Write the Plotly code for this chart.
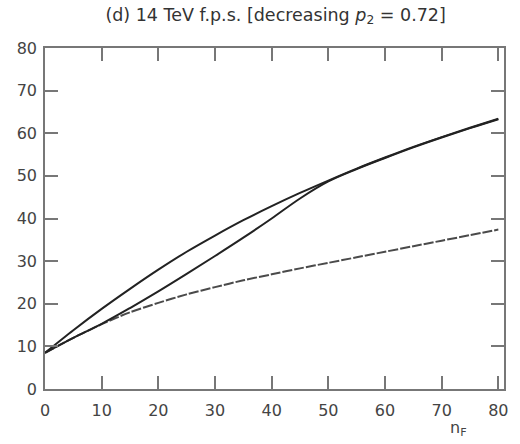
import plotly.graph_objects as go

n_f = [0, 5, 10, 15, 20, 25, 30, 35, 40, 45, 50, 55, 60, 65, 70, 75, 80]
upper = [8.5, 13.8, 18.8, 23.5, 28.0, 32.2, 36.0, 39.6, 42.9, 46.0, 48.9, 51.7, 54.3, 56.8, 59.1, 61.3, 63.4]
middle = [8.5, 12.0, 15.3, 19.0, 22.9, 27.0, 31.2, 35.5, 40.0, 44.7, 48.7, 51.6, 54.2, 56.7, 59.0, 61.2, 63.3]
lower = [8.5, 12.0, 15.2, 18.0, 20.2, 22.2, 23.9, 25.5, 26.9, 28.3, 29.6, 30.9, 32.2, 33.5, 34.8, 36.1, 37.4]

x_ticks = [0, 10, 20, 30, 40, 50, 60, 70, 80]
y_ticks = [0, 10, 20, 30, 40, 50, 60, 70, 80]

title_text = "(d) 14 TeV f.p.s. [decreasing <i>p</i><sub>2</sub> = 0.72]"
x_label = "n<sub>F</sub>"

fig = go.Figure()
fig.add_trace(go.Scatter(x=n_f, y=lower, mode="lines", line=dict(color="#4a4a4a", width=2, dash="10px,2px", shape="spline", smoothing=0.8)))
fig.add_trace(go.Scatter(x=n_f, y=middle, mode="lines", line=dict(color="#222222", width=2, shape="spline", smoothing=1.0)))
fig.add_trace(go.Scatter(x=n_f, y=upper, mode="lines", line=dict(color="#222222", width=2, shape="spline", smoothing=0.8)))

axis_common = dict(
    showgrid=False, zeroline=False, showline=True, linecolor="#777777", linewidth=1.5,
    mirror="ticks", ticks="inside", ticklen=13, tickwidth=1.5, tickcolor="#777777",
    tickfont=dict(family="DejaVu Sans", size=16, color="#444444"),
)

fig.update_layout(
    width=520, height=444,
    margin=dict(l=45, r=14, t=48, b=55),
    paper_bgcolor="white", plot_bgcolor="white",
    showlegend=False,
    title=dict(text=title_text, x=0.53, xanchor="center", y=0.967, yanchor="middle",
               font=dict(family="DejaVu Sans", size=17.5, color="#333333")),
    xaxis=dict(range=[0, 81], tickvals=x_ticks, ticklabelstandoff=6, **axis_common),
    yaxis=dict(range=[0, 80], tickvals=y_ticks, ticklabelstandoff=3, **axis_common),
)
fig.add_annotation(text=x_label, xref="x", yref="paper", x=73, y=-0.115, showarrow=False,
                   font=dict(family="DejaVu Sans", size=16, color="#444444"), yanchor="middle")

fig.write_html("out.html")
